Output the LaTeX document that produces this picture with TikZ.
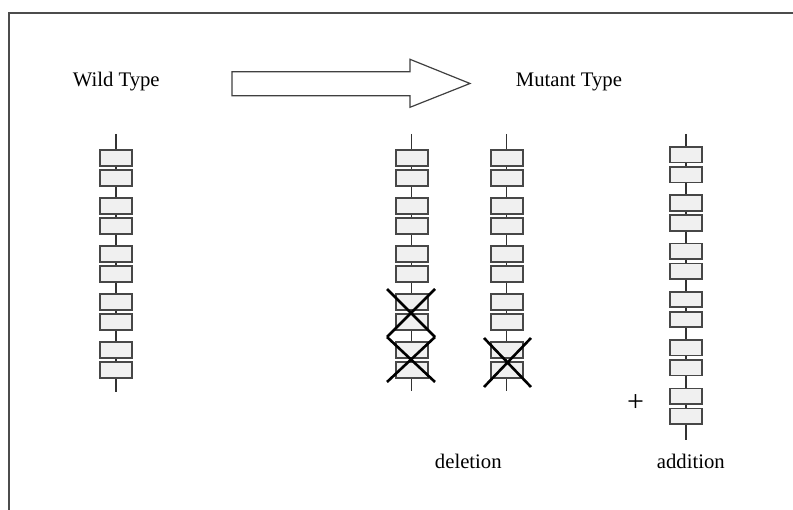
\documentclass[tikz,border=0pt]{standalone}
\usepackage{fontspec}
\setmainfont{Liberation Serif}
\begin{document}
\begin{tikzpicture}[x=1pt,y=-1pt,
  gene/.style={draw=black!72, line width=1.7pt, fill=black!6, minimum width=32pt, minimum height=15.5pt, inner sep=0pt, outer sep=0pt},
  spine/.style={draw=black!80, line width=1.3pt},
  xcross/.style={draw=black, line width=2.6pt},
  lab/.style={font=\fontsize{20.7}{24}\selectfont, inner sep=0pt, anchor=base},
  bigarrow/.style={draw=black!75, line width=1.2pt, fill=white, line join=miter}]
\useasboundingbox (0,0) rectangle (793,510);
% frame
\draw[draw=black!70, line width=1.8pt] (9,510) -- (9,12.7) -- (793,12.7);
% labels
\node[lab] (wild) at (116.2,86.7) {Wild Type};
\node[lab] (mutant) at (568.9,86.7) {Mutant Type};
\node[lab] (del) at (468.3,469) {deletion};
\node[lab] (add) at (690.8,469) {addition};
% big arrow
\draw[bigarrow] (232,71.7) -- (410,71.7) -- (410,59.3) -- (470,83.5) -- (410,107.3) -- (410,95.7) -- (232,95.7) -- cycle;
% wild type
\coordinate (wt-top) at (116,134);
\coordinate (wt-bot) at (116,392);
\draw[spine] (wt-top) -- (wt-bot);
\foreach \k in {0,...,4} {
  \node[gene] (wt-\k a) at (116,{158+48*\k}) {};
  \node[gene] (wt-\k b) at (116,{178+48*\k}) {};
}
% deletion 1
\coordinate (d1-top) at (411.7,134);
\coordinate (d1-bot) at (411.7,391);
\draw[spine] (d1-top) -- (d1-bot);
\foreach \k in {0,...,4} {
  \node[gene] (d1-\k a) at (411.7,{158+48*\k}) {};
  \node[gene] (d1-\k b) at (411.7,{178+48*\k}) {};
}
\coordinate (c1a) at (387,289); \coordinate (c1b) at (435,289);
\coordinate (c1c) at (387,337); \coordinate (c1d) at (435,337);
\coordinate (c1e) at (387,382); \coordinate (c1f) at (435,382);
\draw[xcross] (c1a) -- (c1d) (c1b) -- (c1c);
\draw[xcross] (c1c) -- (c1f) (c1d) -- (c1e);
% deletion 2
\coordinate (d2-top) at (506.7,134);
\coordinate (d2-bot) at (506.7,391);
\draw[spine] (d2-top) -- (d2-bot);
\foreach \k in {0,...,4} {
  \node[gene] (d2-\k a) at (506.7,{158+48*\k}) {};
  \node[gene] (d2-\k b) at (506.7,{178+48*\k}) {};
}
\coordinate (c2a) at (484,338); \coordinate (c2b) at (531,338);
\coordinate (c2c) at (484,387); \coordinate (c2d) at (531,387);
\draw[xcross] (c2a) -- (c2d) (c2b) -- (c2c);
% addition
\coordinate (ad-top) at (686,134);
\coordinate (ad-bot) at (686,440);
\draw[spine] (ad-top) -- (ad-bot);
\foreach \k in {0,...,5} {
  \node[gene] (ad-\k a) at (686,{154.7+48.3*\k}) {};
  \node[gene] (ad-\k b) at (686,{174.7+48.3*\k}) {};
}
\node[font=\fontsize{30}{32}\selectfont, inner sep=0pt] (plus) at (635.5,403) {+};
\end{tikzpicture}
\end{document}
